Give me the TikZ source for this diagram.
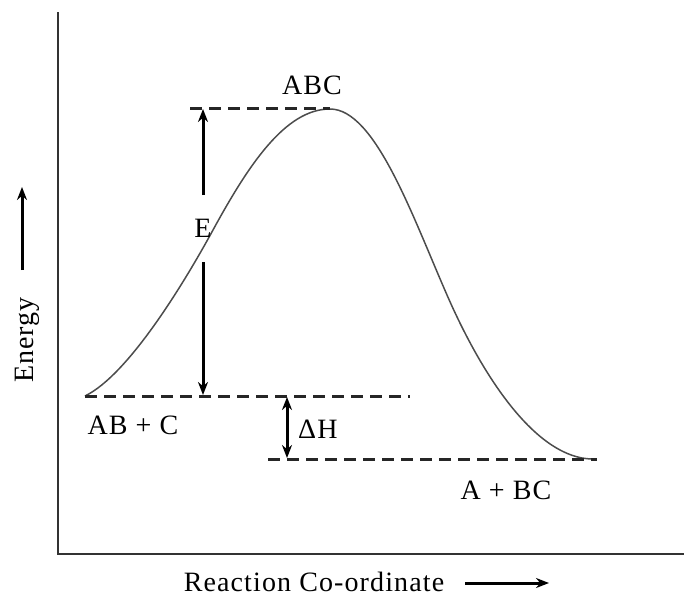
\documentclass[tikz,border=0pt]{standalone}
\usepackage{fontspec}
\setmainfont{Liberation Serif}
\newfontfamily\lblfont[LetterSpace=4]{Liberation Serif}
\usetikzlibrary{arrows.meta}
\begin{document}
\begin{tikzpicture}[x=1pt,y=-1pt,
  axis/.style={line width=2pt,draw=black!80},
  curve/.style={line width=1.5pt,draw=black!70},
  level/.style={line width=3pt,draw=black!85,dash pattern=on 12pt off 7pt},
  bigarrow/.style={line width=3pt,-{Stealth[length=13pt,width=10pt]}},
  dblarrow/.style={line width=3pt,{Stealth[length=13pt,width=10pt]}-{Stealth[length=13pt,width=10pt]}},
  lbl/.style={font=\lblfont\fontsize{28}{32}\selectfont,inner sep=0pt}]
\useasboundingbox (0,0) rectangle (684,597);
% axes
\coordinate (ytop) at (58,12);
\coordinate (orig) at (58,554);
\coordinate (xend) at (684,554);
\draw[axis] (ytop) -- (orig) -- (xend);
% curve
\coordinate (c0) at (85,396);
\coordinate (c1) at (213,230);
\coordinate (pk) at (330,109);
\coordinate (c3) at (447,295);
\coordinate (c4) at (592,459);
\draw[curve] (c0) .. controls (128,375) and (183,285) .. (c1)
  .. controls (248,166) and (285,109) .. (pk)
  .. controls (375,109) and (412,215) .. (c3)
  .. controls (485,382) and (538,458) .. (c4);
% levels
\coordinate (t1) at (190,108); \coordinate (t2) at (330,108);
\coordinate (m1) at (85,396);  \coordinate (m2) at (410,396);
\coordinate (b1) at (268,459); \coordinate (b2) at (597,459);
\draw[level] (t1) -- (t2);
\draw[level] (m1) -- (m2);
\draw[level] (b1) -- (b2);
% E arrows
\node[lbl] (E) at (203,228) {E};
\coordinate (Eu1) at (203,195); \coordinate (Eu2) at (203,109);
\coordinate (Ed1) at (203,262); \coordinate (Ed2) at (203,395);
\draw[bigarrow] (Eu1) -- (Eu2);
\draw[bigarrow] (Ed1) -- (Ed2);
% Delta H
\coordinate (h1) at (287,397); \coordinate (h2) at (287,458);
\draw[dblarrow] (h1) -- (h2);
\node[lbl,anchor=west] (dH) at (298,429) {ΔH};
% labels
\node[lbl] (ABC) at (312,85) {ABC};
\node[lbl] (ABC2) at (133,425) {AB + C};
\node[lbl] (ABC3) at (506,490) {A + BC};
\node[lbl,rotate=90] (en) at (27,340) {Energy};
\coordinate (ya1) at (22,270); \coordinate (ya2) at (22,187);
\draw[bigarrow] (ya1) -- (ya2);
\node[lbl] (rc) at (314,582) {Reaction Co-ordinate};
\coordinate (xa1) at (465,583); \coordinate (xa2) at (549,583);
\draw[bigarrow] (xa1) -- (xa2);
\end{tikzpicture}
\end{document}
